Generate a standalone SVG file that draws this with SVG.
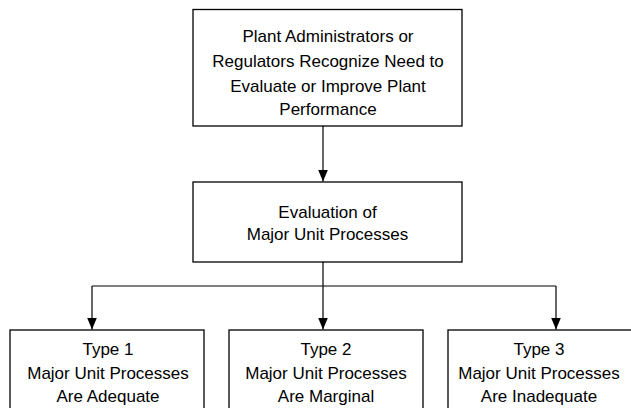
<svg xmlns="http://www.w3.org/2000/svg" width="631" height="408" viewBox="0 0 631 408">
<style>
.box{fill:#fff;stroke:#000;stroke-width:1.3}
.t{font-family:"Liberation Sans",Arial,sans-serif;font-size:17px;fill:#000;text-anchor:middle}
.c{fill:none;stroke:#000;stroke-width:1.2}
</style>
<defs>
<marker id="ah" markerWidth="12" markerHeight="10" refX="12" refY="5" orient="auto" markerUnits="userSpaceOnUse" viewBox="0 0 12 10">
<path d="M0,0 L12,5 L0,10 Z" fill="#000"/>
</marker>
</defs>
<rect width="631" height="408" fill="#fff"/>
<g id="connectors">
<path class="c" d="M323,126 V181.5" marker-end="url(#ah)"/>
<path class="c" d="M323,262 V286"/>
<path class="c" d="M92,286 H556"/>
<path class="c" d="M92,286 V329.5" marker-end="url(#ah)"/>
<path class="c" d="M323,286 V329.5" marker-end="url(#ah)"/>
<path class="c" d="M556,286 V329.5" marker-end="url(#ah)"/>
</g>
<g id="node-top">
<rect class="box" x="193" y="9.5" width="269" height="116.5"/>
<text class="t" x="328" y="42">Plant Administrators or</text>
<text class="t" x="328" y="67">Regulators Recognize Need to</text>
<text class="t" x="328" y="91.5">Evaluate or Improve Plant</text>
<text class="t" x="328" y="115">Performance</text>
</g>
<g id="node-eval">
<rect class="box" x="193" y="182" width="269" height="80"/>
<text class="t" x="327.5" y="217.5">Evaluation of</text>
<text class="t" x="327.5" y="240">Major Unit Processes</text>
</g>
<g id="node-type1">
<rect class="box" x="10" y="330" width="194" height="100"/>
<text class="t" x="108" y="355">Type 1</text>
<text class="t" x="108" y="379">Major Unit Processes</text>
<text class="t" x="108" y="402">Are Adequate</text>
</g>
<g id="node-type2">
<rect class="box" x="229" y="330" width="194" height="100"/>
<text class="t" x="326" y="355">Type 2</text>
<text class="t" x="326" y="379">Major Unit Processes</text>
<text class="t" x="326" y="402">Are Marginal</text>
</g>
<g id="node-type3">
<rect class="box" x="448" y="330" width="210" height="100"/>
<text class="t" x="539" y="355">Type 3</text>
<text class="t" x="539" y="379">Major Unit Processes</text>
<text class="t" x="539" y="402">Are Inadequate</text>
</g>
</svg>
